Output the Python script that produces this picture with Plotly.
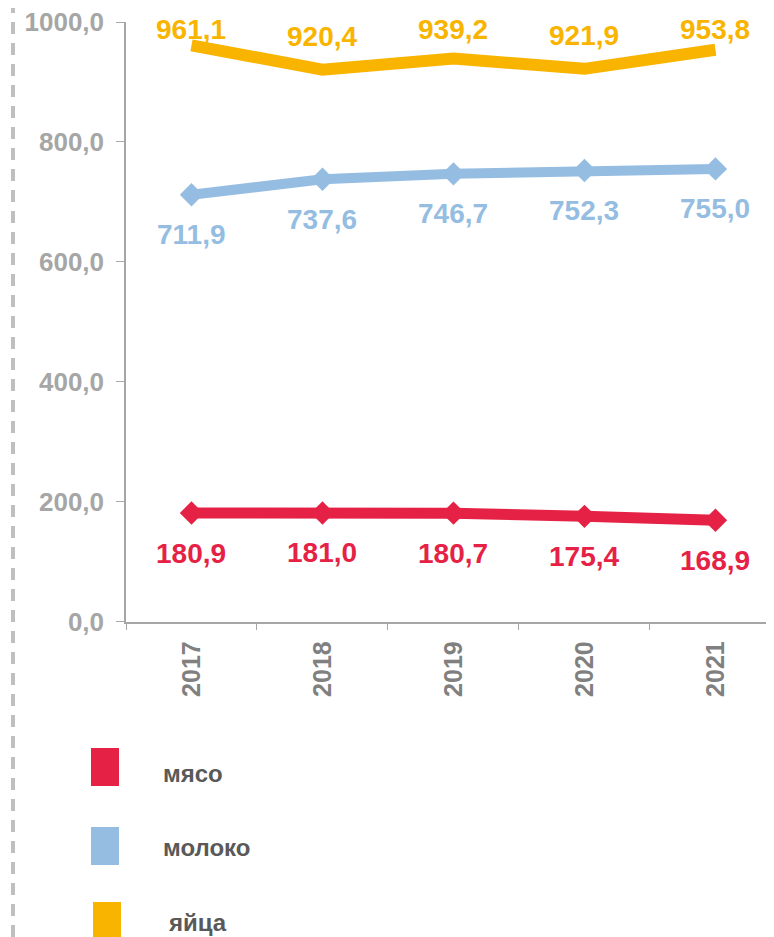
import plotly.graph_objects as go

years = ["2017", "2018", "2019", "2020", "2021"]
series_names = ["мясо", "молоко", "яйца"]
meat = [180.9, 181.0, 180.7, 175.4, 168.9]
milk = [711.9, 737.6, 746.7, 752.3, 755.0]
eggs = [961.1, 920.4, 939.2, 921.9, 953.8]
y_ticks = [0, 200, 400, 600, 800, 1000]

RED = "#E52245"
BLUE = "#95BDE2"
YEL = "#F9B400"
OX, OY = 8, 8          # page body margin
W, H = 774 - OX, 937 - OY

def px(x):
    return (x - OX) / W

def py(y):
    return 1 - (y - OY) / H

def fmt(v):
    return f"{v:.1f}".replace(".", ",")

fig = go.Figure()
fig.add_trace(go.Scatter(x=years, y=eggs, mode="lines", line=dict(color=YEL, width=12),
                         name=series_names[2], hoverinfo="skip"))
fig.add_trace(go.Scatter(x=years, y=milk, mode="lines+markers", line=dict(color=BLUE, width=10),
                         marker=dict(symbol="diamond", size=18, color=BLUE),
                         name=series_names[1], hoverinfo="skip"))
fig.add_trace(go.Scatter(x=years, y=meat, mode="lines+markers", line=dict(color=RED, width=11),
                         marker=dict(symbol="diamond", size=18, color=RED),
                         name=series_names[0], hoverinfo="skip"))

lab_font = dict(family="Liberation Sans, Arial", size=28)
ann = []
for i, v in enumerate(eggs):
    ann.append(dict(x=i, y=min(v + 55, 987), xref="x", yref="y", text=f"<b>{fmt(v)}</b>",
                    showarrow=False, font=dict(color=YEL, **lab_font)))
for i, v in enumerate(milk):
    ann.append(dict(x=i, y=v, xref="x", yref="y", yshift=-40, text=f"<b>{fmt(v)}</b>",
                    showarrow=False, font=dict(color=BLUE, **lab_font)))
for i, v in enumerate(meat):
    ann.append(dict(x=i, y=v, xref="x", yref="y", yshift=-40, text=f"<b>{fmt(v)}</b>",
                    showarrow=False, font=dict(color=RED, **lab_font)))

# legend (custom)
shapes = []
leg = [(series_names[0], RED, 91, 748, 786, 161, 773),
       (series_names[1], BLUE, 91, 827, 865, 161, 847),
       (series_names[2], YEL, 93, 902, 940, 166, 922)]
for name, col, x0, y0, y1, tx, ty in leg:
    shapes.append(dict(type="rect", xref="paper", yref="paper",
                       x0=px(x0), x1=px(x0 + 28), y0=py(y1), y1=py(y0),
                       fillcolor=col, line=dict(width=0)))
    ann.append(dict(x=px(tx), y=py(ty), xref="paper", yref="paper", xanchor="left",
                    yanchor="middle", text=f"<b>{name}</b>", showarrow=False,
                    font=dict(family="Liberation Sans, Arial", size=24, color="#595959")))

# left dashed line
shapes.append(dict(type="line", xref="paper", yref="paper", x0=px(13), x1=px(13), y0=0, y1=1.01,
                   line=dict(color="#BFBFBF", width=4, dash="12px,9px")))

fig.update_layout(
    template="none",
    width=W, height=H, margin=dict(l=0, r=0, t=0, b=0),
    paper_bgcolor="white", plot_bgcolor="white", showlegend=False,
    separators=",.", annotations=ann, shapes=shapes,
    xaxis=dict(domain=[px(126), 1], type="category", range=[-0.5, 4.447], automargin=False,
               tickson="boundaries", ticks="outside", ticklen=7, tickcolor="#A6A6A6",
               showline=True, linecolor="#A6A6A6", linewidth=1.5, showgrid=False,
               tickangle=-90, ticklabelstandoff=8, ticklabeloverflow="allow",
               tickfont=dict(family="Liberation Sans, Arial", size=25, color="#808080", weight="bold")),
    yaxis=dict(domain=[py(621.5), py(22)], range=[-0.02, 1000.02], tickvals=y_ticks, automargin=False,
               tickformat=".1f", ticks="outside", ticklen=8, tickcolor="#A6A6A6",
               ticklabelstandoff=7, ticklabeloverflow="allow",
               showline=True, linecolor="#A6A6A6", linewidth=1.5, showgrid=False, zeroline=False,
               tickfont=dict(family="Liberation Sans, Arial", size=26, color="#A6A6A6", weight="bold")),
)
for tr in fig.data:
    tr.cliponaxis = False

fig.write_html("out.html")
